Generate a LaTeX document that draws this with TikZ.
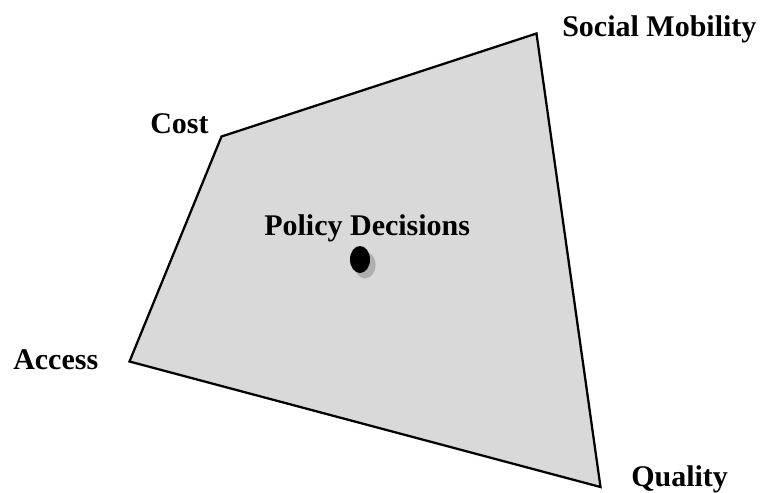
\documentclass[tikz,border=0pt]{standalone}
\usepackage{fontspec}
\setmainfont{Liberation Serif}
\begin{document}
\begin{tikzpicture}[x=0.75pt,y=-0.75pt,
  lbl/.style={anchor=base west,inner sep=0pt,font=\fontsize{22.5}{27}\selectfont\bfseries},
  region/.style={draw=black,line width=1.7pt,fill=areagray,line join=miter}]
\definecolor{areagray}{RGB}{217,217,217}
\definecolor{shadowgray}{RGB}{165,165,165}
\useasboundingbox (0,0) rectangle (765,493);
% corners of the trade-off region
\coordinate (cost) at (221.5,136.5);
\coordinate (mob) at (536.5,33.5);
\coordinate (qual) at (600.5,487);
\coordinate (acc) at (129.5,361.5);
\draw[region] (cost) -- (mob) -- (qual) -- (acc) -- cycle;
% corner labels
\node[lbl] (lcost) at (150,133) {Cost};
\node[lbl] (lmob) at (562,36) {Social Mobility};
\node[lbl] (lqual) at (631,486) {Quality};
\node[lbl] (lacc) at (13,369) {Access};
\node[lbl] (lpol) at (264,235) {Policy Decisions};
% policy point with its shadow
\fill[shadowgray,opacity=0.8] (365,265) ellipse [x radius=10.5,y radius=13.5];
\fill[black] (360,259.5) ellipse [x radius=10,y radius=13.5];
\end{tikzpicture}
\end{document}
